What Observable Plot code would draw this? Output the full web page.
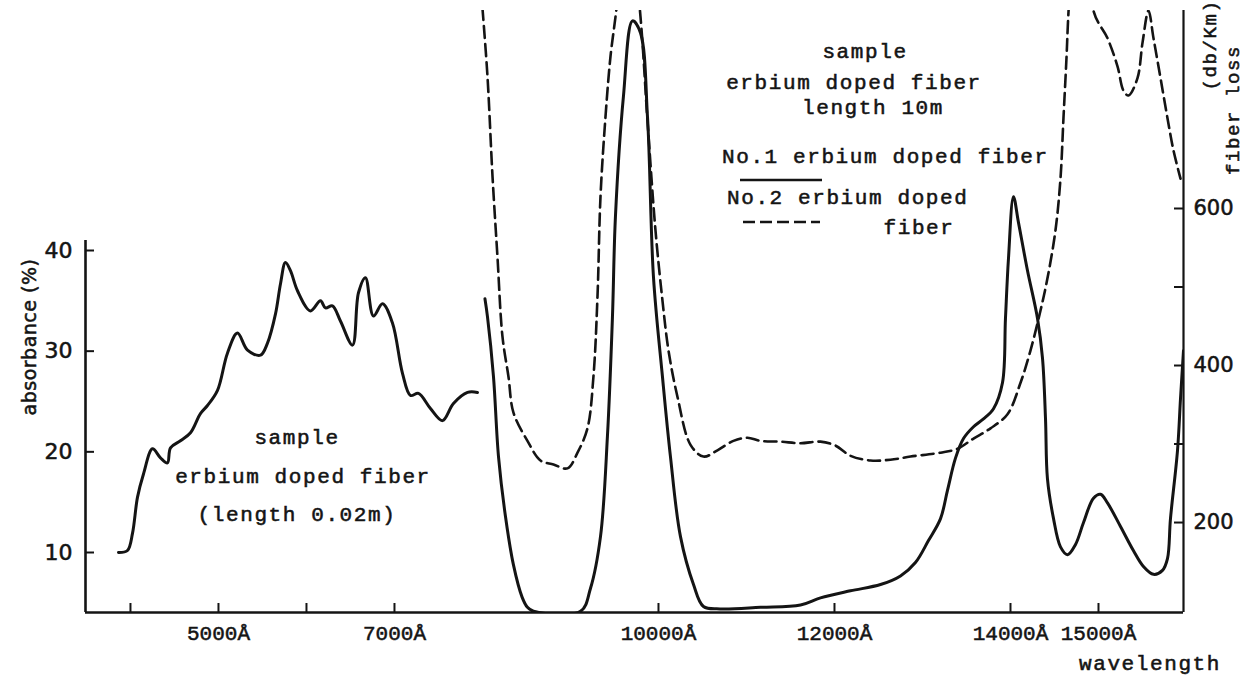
<!DOCTYPE html>
<html><head><meta charset="utf-8">
<script src="https://cdn.jsdelivr.net/npm/d3@7"></script>
<script src="https://cdn.jsdelivr.net/npm/@observablehq/plot@0.6"></script>
<style>
html,body{margin:0;padding:0;background:#fff;}
#chart svg{display:block;}
</style>
</head><body><div id="chart"></div>
<script>
// ---- data (wavelength in Å) ----
const absWavelength = [3864,3966,4023,4080,4148,4250,4341,4420,4455,4568,4682,4795,4875,4989,5102,5216,5330,5477,5557,5648,5705,5761,5818,5898,6045,6159,6216,6295,6386,6523,6591,6670,6761,6864,6977,7091,7182,7273,7409,7545,7670,7830,7943];
const absValue = [10.0,10.2,11.9,15.5,17.8,20.3,19.4,18.9,20.4,21.1,21.9,23.8,24.6,26.1,29.8,31.8,30.1,29.6,30.8,33.7,36.7,38.8,38.0,36.0,34.0,35.0,34.3,34.5,33.0,30.6,35.8,37.3,33.5,34.7,32.8,27.8,25.6,25.8,24.3,23.1,24.8,25.9,25.9];

const no1Wavelength = [8028,8057,8125,8182,8261,8352,8450,8511,8580,9114,9227,9341,9420,9477,9511,9602,9705,9795,9875,9943,10045,10136,10250,10398,10511,10700,11159,11614,11841,12182,12523,12750,12920,13068,13205,13284,13375,13466,13580,13693,13807,13909,13943,13977,14034,14091,14193,14307,14364,14398,14420,14489,14568,14648,14739,14830,14943,15023,15102,15250,15398,15511,15625,15727,15784,15818,15898,15932,15966];
const no1Loss = [485,462,386,284,208,146,105,92,87,87,116,182,310,462,590,743,839,824,717,513,386,284,182,121,93,90,92,95,104,113,121,132,149,177,205,241,282,307,322,332,345,378,460,536,615,582,521,460,409,332,256,205,169,159,172,200,231,236,225,195,164,144,134,139,154,205,292,358,419];

const no2Wavelength = [8000,8057,8114,8170,8227,8295,8352,8511,8659,8807,8966,9080,9193,9261,9307,9341,9398,9455,9523,9650,9795,9875,9966,10045,10114,10216,10364,10511,10670,10852,11011,11159,11386,11614,11841,12011,12182,12409,12636,12864,13205,13398,13580,13773,13966,14114,14227,14341,14420,14511,14568,14602,14636,14659,14800,14943,15102,15216,15284,15341,15443,15500,15568,15625,15705,15784,15852,15932];
const no2Loss = [855,768,641,539,437,386,340,304,279,274,269,289,320,386,488,615,717,794,855,1000,845,712,572,483,419,360,299,284,292,304,308,304,303,301,303,298,285,279,280,284,289,294,307,320,338,378,419,470,511,572,638,715,791,850,1100,852,817,781,750,744,766,811,852,817,766,715,674,638];

const xTickMarks = [4000,5000,6000,7000,10000,12000,14000,15000];
const xTickLabels = [5000,7000,10000,12000,14000,15000];
const absTicks = [10,20,30,40];
const lossTickMarks = [200,300,400,500,600];
const lossTickLabels = [200,400,600];

const xDomain = [3489, 15966];
const absDomain = [4.04, 63.84];
const lossDomain = [85.4, 852.2];
const absAxisTop = 41;

// ---- build ----
const lossToAbs = d3.scaleLinear().domain(lossDomain).range(absDomain);
const absToLoss = lossToAbs.invert;
const absData = absWavelength.map((w,i)=>({w, v: absValue[i]}));
const no1Data = no1Wavelength.map((w,i)=>({w, v: lossToAbs(no1Loss[i])}));
const no2Data = no2Wavelength.map((w,i)=>({w, v: lossToAbs(no2Loss[i])}));

const W=1252, H=679, mL=85, mR=69, mT=10, mB=67;
const frameW = W-mL-mR, frameH = H-mT-mB;
const ink = "#141414";
const mono = "'Liberation Mono','DejaVu Sans Mono',monospace";
const sans = "'DejaVu Sans',sans-serif";

const plot = Plot.plot({
  width: W, height: H,
  marginLeft: mL, marginRight: mR, marginTop: mT, marginBottom: mB,
  x: {domain: xDomain, axis: null},
  y: {domain: absDomain, axis: null},
  style: {background: "#fff", color: ink, overflow: "visible"},
  marks: [
    Plot.ruleY([absDomain[0]], {stroke: ink, strokeWidth: 2.6}),
    Plot.ruleX([xDomain[0]], {y1: absDomain[0], y2: absAxisTop, stroke: ink, strokeWidth: 2.6}),
    Plot.ruleX([xDomain[1]], {stroke: ink, strokeWidth: 2.2}),
    Plot.tickX(xTickMarks, {x: d=>d, insetTop: frameH-9, stroke: ink, strokeWidth: 2}),
    Plot.tickY(absTicks, {y: d=>d, insetRight: frameW-9, stroke: ink, strokeWidth: 2}),
    Plot.tickY(lossTickMarks, {y: d=>lossToAbs(d), insetLeft: frameW-9, stroke: ink, strokeWidth: 2}),
    Plot.axisX(xTickLabels, {tickSize: 0, tickPadding: 13, tickFormat: d=>`${d}Å`, label: null, fontSize: 21, fontFamily: mono}),
    Plot.axisY(absTicks, {anchor: "left", tickSize: 0, tickPadding: 13, label: null, fontSize: 22, fontFamily: sans}),
    Plot.axisY(lossTickLabels.map(lossToAbs), {anchor: "right", tickSize: 0, tickPadding: 10, label: null, tickFormat: d=>String(Math.round(absToLoss(d))), fontSize: 21, fontFamily: sans}),
    Plot.line(absData, {x: "w", y: "v", stroke: ink, strokeWidth: 3, curve: "catmull-rom"}),
    Plot.line(no1Data, {x: "w", y: "v", stroke: ink, strokeWidth: 3, curve: "catmull-rom", clip: true}),
    Plot.line(no2Data, {x: "w", y: "v", stroke: ink, strokeWidth: 2.6, strokeDasharray: "12,6", curve: "catmull-rom", clip: true})
  ]
});

const svg = d3.select(plot);
const g = svg.append("g").attr("fill", ink).attr("font-family", mono).attr("font-size", 21).attr("letter-spacing", "1.6px");
function label(txt, x, y, opts={}) {
  const t = g.append("text").text(txt).attr("x", x).attr("y", y)
    .attr("text-anchor", opts.anchor || "middle").attr("dominant-baseline", "middle");
  if (opts.rotate) t.attr("transform", `rotate(-90 ${x} ${y})`);
  if (opts.size) t.attr("font-size", opts.size);
  if (opts.family) t.attr("font-family", opts.family);
  if (opts.ls != null) t.attr("letter-spacing", opts.ls);
  return t;
}
label("absorbance (%)", 30, 337, {rotate: true, size: 19, family: sans, ls: "0.5px"});
label("(db/Km)", 1211, 45, {rotate: true, size: 19});
label("fiber loss", 1234, 110, {rotate: true, size: 19});
label("wavelength", 1150, 664);
label("sample", 297, 438);
label("erbium doped fiber", 303, 477);
label("(length 0.02m)", 297, 515);
label("sample", 865, 52);
label("erbium doped fiber", 854, 83);
label("length 10m", 873, 108);
label("No.1 erbium doped fiber", 722, 157, {anchor: "start"});
label("No.2 erbium doped", 727, 198, {anchor: "start"});
label("fiber", 919, 228);
svg.append("line").attr("x1", 740).attr("x2", 822).attr("y1", 180).attr("y2", 180).attr("stroke", ink).attr("stroke-width", 2.5);
svg.append("line").attr("x1", 743).attr("x2", 820).attr("y1", 222).attr("y2", 222).attr("stroke", ink).attr("stroke-width", 2.5).attr("stroke-dasharray", "12,5");

// typewriter-like weight for all text
svg.selectAll("text").attr("fill", ink).attr("stroke", ink).attr("stroke-width", 0.55);

document.getElementById("chart").appendChild(plot);
</script>
</body></html>
